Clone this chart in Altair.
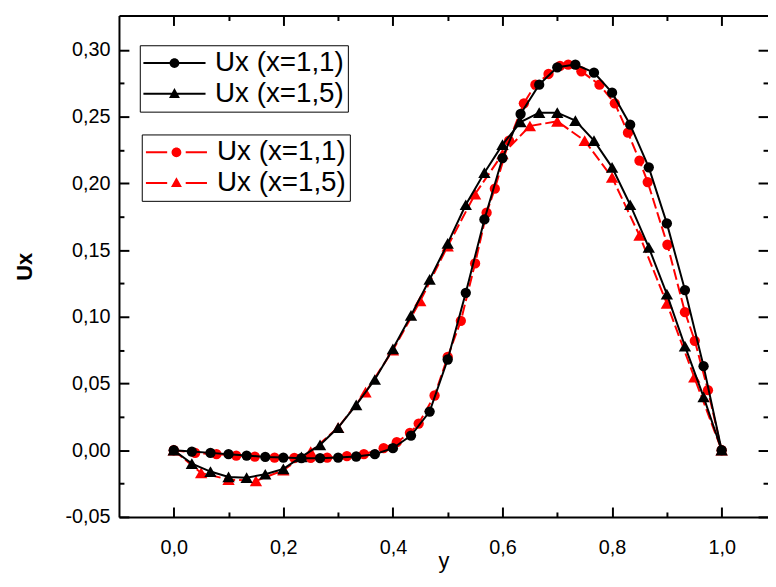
import altair as alt
import pandas as pd

# ---- data ----
XB = [0.000, 0.033, 0.067, 0.100, 0.133, 0.167, 0.200, 0.233, 0.267, 0.300, 0.333,
      0.367, 0.400, 0.433, 0.467, 0.500, 0.533, 0.567, 0.600, 0.633, 0.667, 0.700,
      0.733, 0.767, 0.800, 0.833, 0.867, 0.900, 0.933, 0.967, 1.000]
B1 = [0.000, -0.001, -0.002, -0.003, -0.004, -0.005, -0.0055, -0.006, -0.006, -0.0055, -0.0047,
      -0.003, 0.0015, 0.011, 0.029, 0.068, 0.118, 0.173, 0.219, 0.252, 0.274, 0.287,
      0.289, 0.283, 0.268, 0.244, 0.212, 0.170, 0.120, 0.063, 0.000]
B2 = [0.000, -0.010, -0.016, -0.020, -0.0206, -0.018, -0.014, -0.005, 0.004, 0.017, 0.034,
      0.053, 0.076, 0.101, 0.128, 0.155, 0.184, 0.208, 0.229, 0.246, 0.253, 0.253,
      0.247, 0.232, 0.212, 0.184, 0.152, 0.117, 0.078, 0.040, 0.000]
XR1 = [0.000, 0.039, 0.078, 0.114, 0.148, 0.184, 0.220, 0.250, 0.280, 0.316, 0.347,
       0.383, 0.407, 0.431, 0.447, 0.476, 0.500, 0.524, 0.550, 0.571, 0.586, 0.612,
       0.639, 0.660, 0.684, 0.705, 0.720, 0.744, 0.777, 0.805, 0.829, 0.850, 0.865,
       0.901, 0.933, 0.951, 0.975, 1.000]
R1 = [0.000, -0.002, -0.003, -0.004, -0.0048, -0.0055, -0.0058, -0.0058, -0.0055, -0.0045, -0.003,
      0.0015, 0.006, 0.013, 0.020, 0.041, 0.070, 0.097, 0.140, 0.178, 0.196, 0.232,
      0.260, 0.274, 0.282, 0.288, 0.289, 0.284, 0.274, 0.260, 0.238, 0.217, 0.201,
      0.154, 0.1035, 0.082, 0.045, 0.000]
XR2 = [0.00, 0.05, 0.10, 0.15, 0.20, 0.25, 0.30, 0.35, 0.40, 0.45, 0.50,
       0.55, 0.60, 0.65, 0.70, 0.75, 0.80, 0.85, 0.90, 0.95, 1.00]
R2 = [0.000, -0.017, -0.022, -0.023, -0.015, -0.001, 0.017, 0.0435, 0.075, 0.112, 0.153,
      0.192, 0.222, 0.243, 0.2465, 0.232, 0.2045, 0.161, 0.110, 0.0547, 0.000]

LEG = ["Ux (x=1,1)", "Ux (x=1,5)"]
X_MAJOR = [0.0, 0.2, 0.4, 0.6, 0.8, 1.0]
X_MINOR = [0.1, 0.3, 0.5, 0.7, 0.9]
Y_MAJOR = [-0.05, 0.0, 0.05, 0.10, 0.15, 0.20, 0.25, 0.30]
Y_MINOR = [-0.025, 0.025, 0.075, 0.125, 0.175, 0.225, 0.275]

# ---- layout ----
W, H = 655, 506
FONT = "Liberation Sans"
xs = alt.Scale(domain=[-0.1, 1.0846], nice=False, zero=False)
ys = alt.Scale(domain=[-0.05, 0.3258], nice=False, zero=False)

MINUS = "\u2212"
x_lab = "replace(replace(format(datum.value, '.1f'), '.', ','), '" + MINUS + "', '-')"
y_lab = "replace(replace(format(datum.value, '.2f'), '.', ','), '" + MINUS + "', '-')"

ax_x_labels = alt.Axis(orient="bottom", values=X_MAJOR, ticks=False, tickSize=0,
                       domain=True, domainColor="black", domainWidth=2,
                       labelExpr=x_lab, labelFont=FONT, labelFontSize=20, labelColor="black",
                       labelPadding=21, labelFlush=False,
                       titleFont=FONT, titleFontSize=22, titleFontWeight="normal",
                       titleColor="black", titleY=51, titleBaseline="alphabetic", grid=False)
ax_y_labels = alt.Axis(orient="left", values=Y_MAJOR, ticks=False, tickSize=0,
                       domain=True, domainColor="black", domainWidth=2,
                       labelExpr=y_lab, labelFont=FONT, labelFontSize=20, labelColor="black",
                       labelPadding=9, labelFlush=False,
                       titleFont=FONT, titleFontSize=22, titleFontWeight="bold",
                       titleColor="black", titleX=-95, titleY=253, titleAngle=-90,
                       titleAlign="center", titleBaseline="middle", grid=False)


def tick_axis(orient, offset, values, size, domain=False):
    return alt.Axis(orient=orient, offset=offset, values=values, labels=False,
                    domain=domain, domainColor="black", domainWidth=2,
                    ticks=True, tickSize=size, tickWidth=2, tickColor="black", grid=False)


def enc(xaxis, yaxis, xtitle="", ytitle=""):
    return dict(
        x=alt.X("x:Q", scale=xs, axis=xaxis, title=xtitle),
        y=alt.Y("y:Q", scale=ys, axis=yaxis, title=ytitle),
    )


dB1 = pd.DataFrame({"x": XB, "y": B1})
dB2 = pd.DataFrame({"x": XB, "y": B2})
dR1 = pd.DataFrame({"x": XR1, "y": R1})
dR2 = pd.DataFrame({"x": XR2, "y": R2})

DASH = [11, 4]
C_SIZE, T_SIZE = 108, 155
red_line1 = alt.Chart(dR1).mark_line(color="red", strokeWidth=2, strokeDash=DASH).encode(
    **enc(ax_x_labels, ax_y_labels, "y", "Ux"))
red_line2 = alt.Chart(dR2).mark_line(color="red", strokeWidth=2, strokeDash=DASH).encode(
    **enc(tick_axis("top", -H, X_MAJOR, 10), tick_axis("right", -W, Y_MAJOR, 10)))
red_pts1 = alt.Chart(dR1).mark_point(shape="circle", filled=True, color="red", size=C_SIZE, opacity=1).encode(
    **enc(tick_axis("top", -H, X_MINOR, 5), tick_axis("right", -W, Y_MINOR, 5)))
red_pts2 = alt.Chart(dR2).mark_point(shape="triangle-up", filled=True, color="red", size=T_SIZE, opacity=1).encode(
    **enc(tick_axis("bottom", -H, X_MAJOR, 10, domain=True), tick_axis("left", -W, Y_MAJOR, 10)))
blk_line1 = alt.Chart(dB1).mark_line(color="black", strokeWidth=2).encode(
    **enc(tick_axis("bottom", -H, X_MINOR, 5), tick_axis("left", -W, Y_MINOR, 5)))
blk_line2 = alt.Chart(dB2).mark_line(color="black", strokeWidth=2).encode(**enc(None, None))
blk_pts1 = alt.Chart(dB1).mark_point(shape="circle", filled=True, color="black", size=C_SIZE, opacity=1).encode(
    **enc(None, None))
blk_pts2 = alt.Chart(dB2).mark_point(shape="triangle-up", filled=True, color="black", size=T_SIZE, opacity=1).encode(
    **enc(None, None))

# legend symbols: filled paths (thin bar(s) + marker), unit box scaled by sqrt(size)/2
CIRC = "M0.9,0A0.9,0.9,0,1,1,-0.9,0A0.9,0.9,0,1,1,0.9,0Z"
TRI = "M0,-1.05L1.0,0.75L-1.0,0.75Z"
BAR_FULL = "M-5.7,-0.18L5.7,-0.18L5.7,0.18L-5.7,0.18Z"
BAR_SPLIT = "M-5.6,-0.18L-1.7,-0.18L-1.7,0.18L-5.6,0.18ZM1.7,-0.18L5.6,-0.18L5.6,0.18L1.7,0.18Z"
P_CIRC_B = BAR_FULL + CIRC
P_TRI_B = BAR_FULL + TRI
P_CIRC_R = BAR_SPLIT + CIRC
P_TRI_R = BAR_SPLIT + TRI

dLeg = pd.DataFrame({"s": LEG})


def legend_layer(paths, color, lx, ly):
    return alt.Chart(dLeg).transform_filter("false").mark_point(
        filled=True, fill=color, strokeWidth=0, opacity=1
    ).encode(
        shape=alt.Shape("s:N", scale=alt.Scale(domain=LEG, range=paths),
                        legend=alt.Legend(orient="none", legendX=lx, legendY=ly, title=None,
                                          strokeColor="black", fillColor="white", padding=4,
                                          labelFont=FONT, labelFontSize=28, labelColor="black",
                                          symbolSize=121, symbolStrokeWidth=0,
                                          symbolFillColor=color,
                                          symbolOffset=17, labelOffset=27, rowPadding=3,
                                          labelLimit=400))
    )


leg_black = legend_layer([P_CIRC_B, P_TRI_B], "black", 21, 30)
leg_red = legend_layer([P_CIRC_R, P_TRI_R], "red", 23, 120)

chart = alt.layer(
    red_line1, red_line2, red_pts1, red_pts2,
    blk_line1, blk_line2, blk_pts1, blk_pts2,
    leg_black, leg_red,
).resolve_scale(shape="independent").resolve_legend(shape="independent").resolve_axis(
    x="independent", y="independent"
).properties(
    width=W, height=H,
    autosize=alt.AutoSizeParams(type="none"),
    padding={"left": 112, "top": 5, "right": 0, "bottom": 56},
    background="white",
).configure_view(stroke="transparent")

chart.save("out.html", embed_options={"renderer": "svg", "actions": False})
